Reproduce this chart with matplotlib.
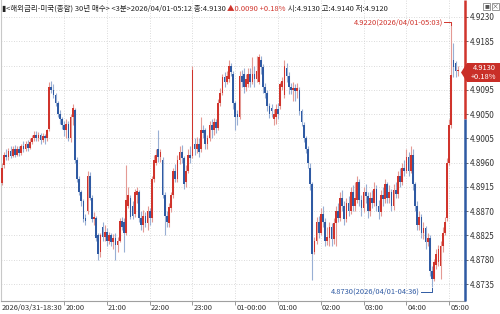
import matplotlib
matplotlib.use("Agg")
import matplotlib.pyplot as plt
import numpy as np
from matplotlib.patches import Polygon, Rectangle

FONTS = ["Noto Sans CJK KR", "DejaVu Sans"]
plt.rcParams["font.family"] = FONTS

# 3분봉, 18:33 부터 05:12 까지 (값 단위: 0.0001)
opens = [48922, 48955, 48975, 48970, 48982, 48972, 48985, 48975, 48985, 48978,
         48990, 48985, 48995, 48988, 48998, 49005, 49012, 49005, 49012, 49002,
         49010, 49005, 49022, 49100, 49095, 49085, 49070, 49050, 49040, 49030,
         49020, 49032, 49005, 49045, 49058, 48965, 48930, 48905, 48888, 48858,
         48870, 48935, 48895, 48855, 48858, 48825, 48795, 48840, 48822, 48832,
         48815, 48825, 48812, 48820, 48808, 48815, 48852, 48850, 48830, 48880,
         48895, 48880, 48865, 48900, 48905, 48858, 48845, 48862, 48848, 48870,
         48858, 48930, 48960, 48985, 48970, 48965, 48900, 48862, 48848, 48875,
         48900, 48945, 48930, 48965, 48980, 48968, 48925, 48945, 48975, 48972,
         48995, 48985, 48995, 48985, 49020, 49020, 48995, 49005, 49030, 49020,
         49035, 49025, 49070, 49090, 49118, 49110, 49115, 49140, 49125, 49070,
         49050, 49045, 49120, 49125, 49100, 49105, 49125, 49110, 49125, 49115,
         49110, 49150, 49138, 49100, 49090, 49065, 49062, 49040, 49045, 49060,
         49065, 49100, 49085, 49135, 49120, 49100, 49095, 49098, 49092, 49095,
         49055, 49030, 49005, 48985, 48950, 48920, 48795, 48815, 48850, 48830,
         48865, 48850, 48815, 48820, 48840, 48818, 48848, 48870, 48858, 48895,
         48880, 48855, 48885, 48870, 48905, 48880, 48890, 48925, 48890, 48875,
         48905, 48898, 48870, 48895, 48885, 48912, 48880, 48868, 48900, 48892,
         48920, 48895, 48905, 48880, 48910, 48902, 48935, 48925, 48950, 48945,
         48970, 48945, 48975, 48920, 48880, 48845, 48860, 48830, 48838, 48812,
         48820, 48760, 48745, 48770, 48775, 48768, 48805, 48830, 48858, 48960,
         49030, 49150, 49145, 49130]
highs = [48960, 48980, 48985, 48988, 48990, 48990, 48992, 48990, 48990, 48995,
         49000, 49000, 49002, 49005, 49012, 49018, 49018, 49016, 49015, 49015,
         49014, 49022, 49110, 49112, 49105, 49090, 49075, 49058, 49045, 49038,
         49040, 49038, 49050, 49068, 49062, 48970, 48935, 48910, 48892, 48865,
         48945, 48942, 48900, 48868, 48862, 48830, 48830, 48850, 48845, 48838,
         48832, 48830, 48828, 48830, 48822, 48858, 48860, 48858, 48955, 48915,
         48900, 48888, 48912, 48915, 48910, 48870, 48872, 48868, 48880, 48875,
         48935, 48975, 48985, 49020, 48985, 48970, 48905, 48870, 48885, 48905,
         48950, 48958, 48975, 48990, 48992, 48972, 48955, 48985, 48990, 49140,
         49005, 49008, 49005, 49045, 49030, 49025, 49012, 49038, 49040, 49042,
         49040, 49078, 49098, 49125, 49128, 49130, 49150, 49145, 49130, 49075,
         49058, 49130, 49132, 49135, 49125, 49135, 49135, 49155, 49140, 49158,
         49162, 49158, 49142, 49108, 49095, 49070, 49068, 49060, 49068, 49070,
         49110, 49118, 49150, 49145, 49128, 49108, 49110, 49105, 49108, 49100,
         49060, 49035, 49010, 48990, 48960, 48925, 48822, 48860, 48862, 48875,
         48880, 48858, 48840, 48850, 48848, 48858, 48880, 48885, 48905, 48910,
         48888, 48895, 48898, 48915, 48918, 48925, 48935, 48930, 48900, 48915,
         48920, 48905, 48905, 48910, 48925, 48918, 48890, 48910, 48915, 48930,
         48925, 48918, 48912, 48920, 48925, 48945, 48950, 48960, 48965, 48985,
         48980, 48990, 48985, 48925, 48888, 48870, 48865, 48850, 48842, 48830,
         48825, 48768, 48782, 48800, 48808, 48815, 48840, 48860, 48968, 49040,
         49220, 49182, 49148, 49140]
lows = [48918, 48950, 48965, 48965, 48968, 48970, 48970, 48972, 48972, 48975,
        48980, 48982, 48982, 48985, 48995, 49000, 49000, 49000, 48995, 48998,
        48995, 49000, 49018, 49090, 49080, 49065, 49045, 49032, 49022, 49010,
        49005, 49000, 48998, 49030, 48960, 48925, 48900, 48880, 48850, 48845,
        48865, 48890, 48850, 48845, 48815, 48780, 48785, 48815, 48815, 48805,
        48810, 48805, 48800, 48780, 48795, 48812, 48835, 48795, 48825, 48875,
        48855, 48855, 48860, 48885, 48850, 48835, 48832, 48840, 48835, 48845,
        48850, 48925, 48955, 48962, 48962, 48895, 48825, 48840, 48840, 48868,
        48895, 48925, 48925, 48958, 48960, 48912, 48915, 48940, 48960, 48968,
        48975, 48978, 48970, 48980, 49005, 48985, 48985, 49000, 49005, 49012,
        49015, 49020, 49065, 49085, 49100, 49105, 49110, 49120, 49060, 49020,
        49030, 49040, 49100, 49090, 49092, 49100, 49100, 49105, 49100, 49110,
        49105, 49125, 49090, 49080, 49055, 49042, 49045, 49030, 49032, 49040,
        49060, 49095, 49080, 49110, 49088, 49088, 49075, 49075, 49080, 49048,
        49028, 48998, 48978, 48950, 48910, 48742, 48790, 48810, 48820, 48825,
        48840, 48805, 48808, 48805, 48805, 48810, 48805, 48850, 48852, 48870,
        48845, 48850, 48862, 48865, 48870, 48870, 48885, 48880, 48862, 48868,
        48885, 48858, 48862, 48875, 48880, 48870, 48855, 48862, 48880, 48885,
        48885, 48885, 48870, 48872, 48895, 48895, 48915, 48918, 48935, 48940,
        48935, 48940, 48910, 48870, 48835, 48835, 48820, 48818, 48800, 48805,
        48750, 48730, 48740, 48762, 48768, 48745, 48795, 48825, 48852, 48955,
        49025, 49118, 49118, 49120]
closes = [48950, 48975, 48970, 48982, 48972, 48985, 48975, 48985, 48978, 48990,
          48985, 48995, 48988, 48998, 49005, 49012, 49005, 49012, 49002, 49010,
          49005, 49020, 49100, 49095, 49085, 49070, 49050, 49040, 49030, 49020,
          49032, 49005, 49045, 49062, 48965, 48930, 48905, 48888, 48855, 48852,
          48935, 48895, 48855, 48860, 48820, 48790, 48825, 48822, 48832, 48815,
          48825, 48812, 48820, 48808, 48815, 48852, 48840, 48830, 48890, 48900,
          48860, 48862, 48905, 48908, 48858, 48845, 48862, 48848, 48870, 48858,
          48930, 48965, 48975, 48970, 48980, 48900, 48862, 48850, 48878, 48900,
          48945, 48930, 48965, 48980, 48968, 48920, 48945, 48975, 48968, 49132,
          48985, 48995, 48980, 49020, 49015, 48995, 49005, 49030, 49020, 49035,
          49025, 49070, 49090, 49118, 49110, 49120, 49140, 49128, 49070, 49045,
          49045, 49120, 49110, 49100, 49115, 49125, 49110, 49125, 49115, 49130,
          49155, 49138, 49100, 49090, 49065, 49050, 49055, 49050, 49060, 49050,
          49105, 49112, 49140, 49120, 49100, 49095, 49098, 49092, 49098, 49055,
          49035, 49005, 48985, 48960, 48920, 48790, 48815, 48850, 48830, 48865,
          48850, 48815, 48822, 48840, 48818, 48848, 48870, 48858, 48895, 48880,
          48855, 48885, 48870, 48905, 48880, 48895, 48925, 48890, 48875, 48905,
          48898, 48870, 48895, 48885, 48912, 48880, 48868, 48900, 48892, 48920,
          48895, 48905, 48880, 48910, 48902, 48935, 48925, 48950, 48945, 48970,
          48945, 48975, 48920, 48880, 48845, 48860, 48830, 48838, 48812, 48820,
          48760, 48745, 48775, 48790, 48800, 48805, 48830, 48850, 48960, 49030,
          49122, 49138, 49130, 49130]

y_ticks = [4.9230, 4.9185, 4.9095, 4.9050, 4.9005, 4.8960, 4.8915, 4.8870,
           4.8825, 4.8780, 4.8735]
grid_levels = [4.9230, 4.9185, 4.9140, 4.9095, 4.9050, 4.9005, 4.8960, 4.8915,
               4.8870, 4.8825, 4.8780, 4.8735]
hour_labels = ["20:00", "21:00", "22:00", "23:00", "01-00:00", "01:00",
               "02:00", "03:00", "04:00", "05:00"]
hour_bars = [30, 50, 70, 90, 110, 130, 150, 170, 190, 210]
first_label = "2026/03/31-18:30"

prev_close = 4.9040
last_price = 4.9130
high_text = "4.9220(2026/04/01-05:03)"
high_value, high_bar = 4.9220, 211
low_text = "4.8730(2026/04/01-04:36)"
low_value, low_bar = 4.8730, 202

RED = "#d0342c"
BLUE = "#2f5aa3"
RED_W = "#e49a94"
BLUE_W = "#98afd4"

o = np.array(opens) / 1e4
h = np.array(highs) / 1e4
l = np.array(lows) / 1e4
c = np.array(closes) / 1e4
idx = np.arange(1, len(o) + 1)
up = c >= o

W, H = 500, 314
fig = plt.figure(figsize=(5, 3.14), dpi=100)
ax = fig.add_axes([1 / W, 13 / H, 464 / W, 301 / H])
ax.set_xlim(0.5, 217.4)
ax.set_ylim(4.87035, 4.92615)

for g in grid_levels:
    ax.axhline(g, color="#cfcfcf", lw=0.6, ls=(0, (1, 2)), zorder=0)
for b in hour_bars:
    ax.axvline(b, color="#cfcfcf", lw=0.6, ls=(0, (1, 2)), zorder=0)

ax.vlines(idx[up], l[up], h[up], color=RED_W, lw=0.8, zorder=2)
ax.vlines(idx[~up], l[~up], h[~up], color=BLUE_W, lw=0.8, zorder=2)
body = np.maximum(np.abs(c - o), 0.00012)
ax.bar(idx[up], body[up], bottom=np.minimum(o, c)[up], width=0.8,
       color=RED, lw=0, zorder=3)
ax.bar(idx[~up], body[~up], bottom=np.minimum(o, c)[~up], width=0.8,
       color=BLUE, lw=0, zorder=3)

# 축
for s in ["top", "right"]:
    ax.spines[s].set_visible(False)
ax.spines["left"].set_color("#c8c8c8")
ax.spines["bottom"].set_color("#a0a0a0")
ax.spines["bottom"].set_linewidth(0.8)
ax.yaxis.tick_right()
ax.set_yticks(y_ticks)
ax.set_yticklabels([f"{v:.4f}" for v in y_ticks])
ax.tick_params(axis="y", length=2.5, width=0.6, pad=1, labelsize=5.8,
               colors="#555555", labelcolor="#333333")
ax.set_xticks(hour_bars)
ax.set_xticklabels([])
ax.tick_params(axis="x", length=3, width=0.6, colors="#888888")

xr = ax.get_xlim()[1]
ax.plot([xr, xr], [prev_close, ax.get_ylim()[1]], color=RED, lw=1.8,
        clip_on=False, zorder=5, solid_capstyle="butt")
ax.plot([xr, xr], [ax.get_ylim()[0], prev_close], color=BLUE, lw=1.8,
        clip_on=False, zorder=5, solid_capstyle="butt")

xt = ax.get_xaxis_transform()
ax.text(0.6, -0.022, first_label, transform=xt, ha="left", va="center",
        fontsize=5.4, color="#333333")
for b, lab in zip(hour_bars, hour_labels):
    ax.text(b + 0.5, -0.022, lab, transform=xt, ha="left", va="center",
            fontsize=5.4, color="#333333")

# 최고/최저 표시
ax.text(high_bar - 3.8, high_value + 0.00003, high_text, ha="right", va="center",
        fontsize=5.4, color=RED)
ax.plot([high_bar - 3.6, high_bar, high_bar], [high_value + 0.00003] * 2 + [high_value - 0.0004],
        color=RED, lw=0.7)
ax.text(low_bar - 5.6, low_value - 0.0009, low_text, ha="right", va="center",
        fontsize=5.4, color=BLUE)
ax.plot([low_bar - 5.4, low_bar, low_bar], [low_value - 0.0009] * 2 + [low_value - 0.0002],
        color=BLUE, lw=0.7)

# 현재가 박스
def px(x, y):
    return (x / W, 1 - y / H)

box = Polygon([px(461, 72.5), px(467, 63), px(500, 63), px(500, 82), px(467, 82)],
              closed=True, transform=fig.transFigure, facecolor="#c92f28",
              edgecolor="none", zorder=10)
fig.patches.append(box)
fig.text(*px(484, 67.8), f"{last_price:.4f}", ha="center", va="center",
         fontsize=5.4, color="white", zorder=11)
fig.text(*px(484, 77.2), "+0.18%", ha="center", va="center",
         fontsize=5.4, color="white", zorder=11)

# 창 아이콘
for x0 in (483, 492):
    fig.patches.append(Rectangle(px(x0, 10), 7 / W, 7 / H, transform=fig.transFigure,
                                 facecolor="white", edgecolor="#888888", lw=0.6))
fig.text(*px(486.5, 6.5), "■", ha="center", va="center", fontsize=3.5, color="#555555")
fig.text(*px(495.5, 6.5), "×", ha="center", va="center", fontsize=5, color="#555555")

# 제목
title_parts = [
    ("▮<해외금리-미국(종합) 30년 매수> <3분>2026/04/01-05:12 종:4.9130 ", "#222222"),
    ("▲0.0090 +0.18%", RED),
    (" 시:4.9130 고:4.9140 저:4.9120", "#222222"),
]
renderer = fig.canvas.get_renderer()
size = 6.0
total = 0
for txt, col in title_parts:
    t = fig.text(0, 0, txt, fontsize=size)
    total += t.get_window_extent(renderer).width
    t.remove()
size = size * 384 / total
x = 1.5
for txt, col in title_parts:
    t = fig.text(*px(x, 9), txt, fontsize=size, color=col, ha="left", va="center")
    x = t.get_window_extent(renderer).x1

fig.savefig("out.png", dpi=100)
